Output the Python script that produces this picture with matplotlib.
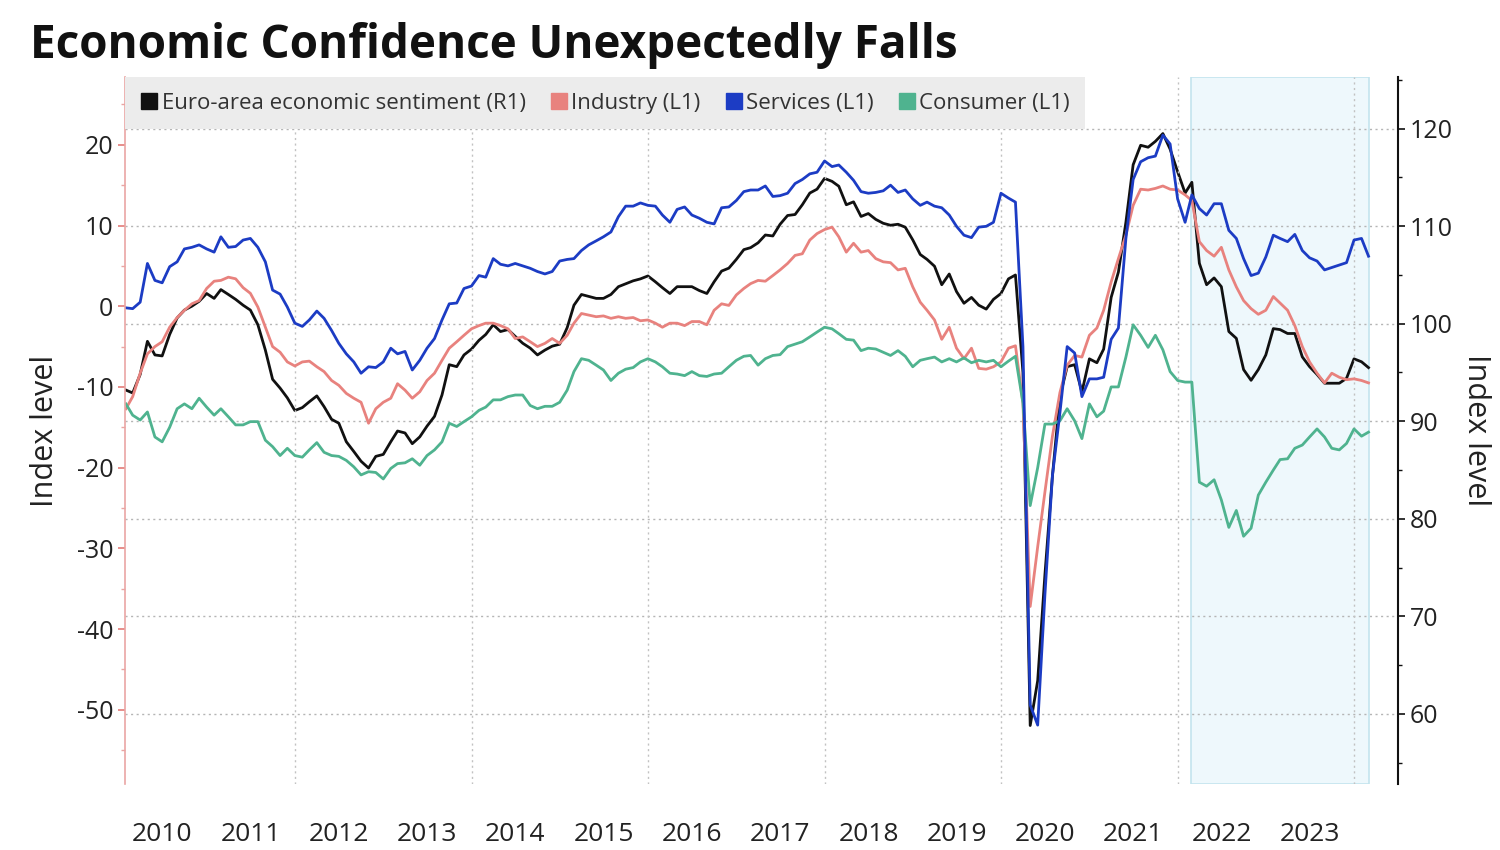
import matplotlib
matplotlib.use("Agg")
import matplotlib.pyplot as plt
from matplotlib.lines import Line2D
from matplotlib.ticker import MultipleLocator
import matplotlib.dates as mdates
import pandas as pd

plt.rcParams["font.family"] = ["Open Sans", "DejaVu Sans"]
plt.rcParams["axes.unicode_minus"] = False

# monthly readings, Jan 2010 - Feb 2024
sentiment = [  # Euro-area economic sentiment (R1)
    93.2, 92.9, 94.8, 98.2, 96.8, 96.7, 98.9, 100.6, 101.4, 101.8, 102.3, 103.1,
    102.6, 103.5, 103.0, 102.5, 101.9, 101.4, 99.9, 97.3, 94.3, 93.4, 92.4, 91.1,
    91.4, 92.0, 92.6, 91.5, 90.2, 89.8, 87.9, 86.9, 85.9, 85.2, 86.4, 86.6,
    87.9, 89.0, 88.8, 87.7, 88.4, 89.5, 90.5, 92.7, 95.8, 95.6, 96.8, 97.4,
    98.3, 98.9, 99.9, 99.2, 99.4, 98.7, 98.0, 97.5, 96.8, 97.3, 97.7, 97.9,
    99.6, 101.9, 103.0, 102.8, 102.6, 102.6, 103.0, 103.8, 104.1, 104.4, 104.6, 104.9,
    104.3, 103.7, 103.1, 103.8, 103.8, 103.8, 103.4, 103.1, 104.3, 105.4, 105.7, 106.6,
    107.6, 107.8, 108.3, 109.1, 109.0, 110.2, 111.1, 111.2, 112.2, 113.4, 113.8, 114.9,
    114.6, 114.1, 112.2, 112.5, 111.0, 111.3, 110.7, 110.3, 110.1, 110.2, 109.9, 108.6,
    107.1, 106.6, 105.9, 104.0, 105.1, 103.3, 102.1, 102.7, 101.9, 101.5, 102.5, 103.1,
    104.6, 105.0, 95.0, 58.8, 63.4, 74.3, 84.4, 92.5, 95.6, 95.8, 93.0, 96.4,
    96.0, 97.4, 102.7, 105.3, 110.4, 116.3, 118.3, 118.1, 118.7, 119.5, 117.9, 115.6,
    113.4, 114.5, 106.2, 104.0, 104.7, 103.8, 99.2, 98.5, 95.3, 94.2, 95.3, 96.8,
    99.5, 99.4, 99.0, 99.0, 96.6, 95.6, 94.8, 93.9, 93.9, 93.9, 94.4, 96.4,
    96.1, 95.5,
]
industry = [  # Industry (L1)
    -12.7, -11.2, -8.3, -5.9, -5.0, -4.4, -2.6, -1.4, -0.5, 0.3, 0.7, 2.2,
    3.1, 3.2, 3.6, 3.4, 2.3, 1.6, -0.1, -2.6, -5.0, -5.7, -6.9, -7.4,
    -6.9, -6.8, -7.5, -8.1, -9.2, -9.8, -10.8, -11.4, -11.9, -14.5, -12.7, -11.9,
    -11.4, -9.6, -10.4, -11.4, -10.6, -9.2, -8.3, -6.7, -5.2, -4.4, -3.6, -2.8,
    -2.4, -2.1, -2.1, -2.4, -2.8, -4.0, -3.8, -4.4, -5.0, -4.6, -4.0, -4.6,
    -3.6, -2.1, -0.9, -1.1, -1.3, -1.2, -1.5, -1.3, -1.5, -1.4, -1.8, -1.7,
    -2.1, -2.6, -2.1, -2.1, -2.4, -1.9, -1.9, -2.3, -0.5, 0.3, 0.1, 1.4,
    2.2, 2.8, 3.2, 3.1, 3.8, 4.5, 5.3, 6.3, 6.5, 8.2, 9.0, 9.5,
    9.8, 8.6, 6.7, 7.8, 6.7, 6.9, 5.9, 5.5, 5.4, 4.5, 4.7, 2.4,
    0.5, -0.5, -1.7, -4.1, -2.6, -5.2, -6.5, -5.2, -7.7, -7.8, -7.5, -6.9,
    -5.2, -4.9, -12.0, -37.2, -29.8, -23.0, -16.1, -10.7, -7.3, -6.1, -6.3, -3.6,
    -2.7, -0.5, 3.0, 5.9, 8.8, 12.5, 14.5, 14.4, 14.6, 14.9, 14.5, 14.4,
    13.8, 13.1, 8.0, 6.9, 6.2, 7.3, 4.5, 2.4, 0.7, -0.3, -1.0, -0.5,
    1.2, 0.4, -0.5, -2.4, -5.0, -6.9, -8.3, -9.5, -8.3, -8.8, -9.1, -9.0,
    -9.2, -9.5,
]
services = [  # Services (L1)
    -0.2, -0.3, 0.5, 5.3, 3.2, 2.9, 4.9, 5.5, 7.1, 7.3, 7.6, 7.1,
    6.7, 8.6, 7.3, 7.4, 8.2, 8.4, 7.3, 5.5, 2.0, 1.5, -0.1, -2.1,
    -2.5, -1.7, -0.6, -1.5, -3.0, -4.6, -5.9, -6.9, -8.3, -7.5, -7.6, -6.9,
    -5.2, -5.9, -5.6, -7.9, -6.7, -5.2, -4.0, -1.7, 0.3, 0.4, 2.2, 2.5,
    3.8, 3.6, 5.9, 5.2, 5.0, 5.3, 5.0, 4.7, 4.3, 4.0, 4.3, 5.6,
    5.8, 5.9, 6.9, 7.6, 8.1, 8.6, 9.2, 11.1, 12.4, 12.4, 12.8, 12.5,
    12.4, 11.3, 10.4, 12.0, 12.3, 11.3, 10.9, 10.4, 10.2, 12.2, 12.3, 13.1,
    14.2, 14.4, 14.4, 14.9, 13.6, 13.7, 14.0, 15.2, 15.7, 16.4, 16.6, 18.0,
    17.3, 17.5, 16.6, 15.6, 14.2, 14.0, 14.1, 14.3, 15.0, 14.1, 14.4, 13.3,
    12.5, 12.9, 12.4, 12.2, 11.3, 9.9, 8.8, 8.5, 9.8, 9.9, 10.4, 14.0,
    13.4, 12.9, -5.0, -49.4, -51.9, -35.7, -21.0, -13.2, -5.0, -5.8, -11.2, -9.0,
    -9.0, -8.8, -4.1, -2.7, 8.4, 15.7, 17.9, 18.4, 18.6, 21.2, 20.1, 13.3,
    10.4, 13.8, 12.1, 11.3, 12.7, 12.7, 9.4, 8.4, 5.9, 3.8, 4.1, 6.1,
    8.8, 8.4, 8.0, 8.9, 6.9, 6.0, 5.6, 4.5, 4.8, 5.1, 5.4, 8.2,
    8.4, 6.2,
]
consumer = [  # Consumer (L1)
    -12.1, -13.5, -14.1, -13.1, -16.2, -16.8, -15.0, -12.7, -12.1, -12.7, -11.4, -12.5,
    -13.5, -12.7, -13.7, -14.7, -14.7, -14.3, -14.3, -16.6, -17.4, -18.5, -17.6, -18.5,
    -18.7, -17.8, -16.9, -18.1, -18.5, -18.6, -19.1, -19.9, -20.9, -20.5, -20.6, -21.4,
    -20.1, -19.5, -19.4, -18.9, -19.7, -18.5, -17.8, -16.8, -14.5, -14.9, -14.3, -13.7,
    -12.9, -12.5, -11.6, -11.6, -11.2, -11.0, -11.0, -12.3, -12.7, -12.4, -12.4, -11.9,
    -10.4, -8.1, -6.5, -6.7, -7.3, -7.9, -9.2, -8.3, -7.8, -7.6, -6.9, -6.5,
    -6.9, -7.5, -8.3, -8.4, -8.6, -8.1, -8.6, -8.7, -8.4, -8.3, -7.5, -6.7,
    -6.2, -6.1, -7.3, -6.5, -6.1, -6.0, -5.0, -4.7, -4.4, -3.8, -3.2, -2.6,
    -2.8, -3.4, -4.1, -4.2, -5.5, -5.2, -5.3, -5.7, -6.1, -5.5, -6.2, -7.5,
    -6.7, -6.5, -6.3, -6.9, -6.5, -6.9, -6.4, -7.0, -6.7, -6.9, -6.7, -7.5,
    -6.8, -6.2, -12.0, -24.7, -20.0, -14.6, -14.6, -14.2, -12.7, -14.2, -16.4, -12.1,
    -13.7, -13.0, -10.0, -10.0, -6.3, -2.3, -3.6, -5.1, -3.6, -5.4, -8.1, -9.2,
    -9.4, -9.4, -21.8, -22.3, -21.5, -24.0, -27.4, -25.3, -28.5, -27.5, -23.4, -21.8,
    -20.3, -19.0, -18.9, -17.6, -17.2, -16.2, -15.2, -16.2, -17.6, -17.8, -17.0, -15.2,
    -16.1, -15.6,
]

dates = pd.period_range("2010-01", periods=len(sentiment), freq="M").to_timestamp(how="end").normalize()
years = list(range(2010, 2024))
left_ticks = [-50, -40, -30, -20, -10, 0, 10, 20]
right_ticks = [60, 70, 80, 90, 100, 110, 120]
shade_start = pd.Timestamp("2022-02-24")
shade_end = pd.Timestamp("2024-03-02")

labels = ["Euro-area economic sentiment (R1)", "Industry (L1)", "Services (L1)", "Consumer (L1)"]
colors = ["#111111", "#e8827e", "#1c3cc4", "#4fb38f"]

fig = plt.figure(figsize=(15, 8.5), dpi=100)
ax = fig.add_axes([0.0833, 0.0776, 0.8487, 0.8318])
ax2 = ax.twinx()
ax.set_zorder(ax2.get_zorder() + 1)
ax.patch.set_visible(False)

# shaded period since the invasion of Ukraine
ax2.axvspan(shade_start, shade_end, facecolor="#eef8fc", edgecolor="#c3e4ee", lw=1.2, zorder=0)

ax2.plot(dates, sentiment, color=colors[0], lw=2.0, zorder=3)
ax.plot(dates, industry, color=colors[1], lw=2.0)
ax.plot(dates, consumer, color=colors[3], lw=2.0)
ax.plot(dates, services, color=colors[2], lw=2.0)

ax.set_xlim(pd.Timestamp("2010-01-27"), pd.Timestamp("2024-06-30"))
ax.set_ylim(-59.2, 28.4)
ax2.set_ylim(52.8, 125.3)

# x axis: year labels mid-year, dotted grid every second January
ax.set_xticks([pd.Timestamp(f"{y}-07-01") for y in years])
ax.set_xticklabels([str(y) for y in years])
ax.xaxis.set_minor_locator(mdates.YearLocator(2))
ax.tick_params(axis="x", which="both", length=0, labelsize=19, pad=27, colors="#222222")

ax.set_yticks(left_ticks)
ax.yaxis.set_minor_locator(MultipleLocator(5))
ax.tick_params(axis="y", which="major", length=5, width=1.2, color="#e37c78", labelsize=18, labelcolor="#222222")
ax.tick_params(axis="y", which="minor", length=3, width=1, color="#e9a5a3")

ax2.set_yticks(right_ticks)
ax2.yaxis.set_minor_locator(MultipleLocator(5))
ax2.tick_params(axis="y", which="major", length=5, width=1.2, color="#111111", labelsize=18, labelcolor="#222222")
ax2.tick_params(axis="y", which="minor", length=3, width=1, color="#111111")

ax2.grid(axis="y", which="major", color="#b5b5b5", lw=1.0, linestyle=(0, (1.5, 2.5)))
ax.grid(axis="x", which="minor", color="#c2c2c2", lw=1.0, linestyle=(0, (1.5, 2.5)), zorder=0)
ax.set_axisbelow(True)

for s in ["top", "bottom", "right"]:
    ax.spines[s].set_visible(False)
for s in ["top", "bottom", "left"]:
    ax2.spines[s].set_visible(False)
ax.spines["left"].set_color("#eaa6a4")
ax.spines["left"].set_linewidth(1.2)
ax2.spines["right"].set_color("#111111")
ax2.spines["right"].set_linewidth(1.5)

ax.set_ylabel("Index level", fontsize=22, color="#222222", labelpad=12)
ax2.set_ylabel("Index level", fontsize=22, color="#222222", rotation=270, va="bottom", labelpad=6)

handles = [Line2D([], [], marker="s", ls="none", color=c, markersize=11) for c in colors]
leg = ax.legend(handles, labels, loc="upper left", bbox_to_anchor=(0, 1), ncol=4,
                frameon=True, facecolor="#ececec", edgecolor="none", fancybox=False,
                framealpha=1, borderaxespad=0, handletextpad=0.15, columnspacing=1.1,
                handlelength=0.8, fontsize=16, borderpad=0.7)
for t in leg.get_texts():
    t.set_color("#333333")

fig.text(0.02, 0.947, "Economic Confidence Unexpectedly Falls", fontsize=33,
         fontweight="bold", va="center", ha="left", color="#111111")

fig.savefig("out.png", dpi=100)
